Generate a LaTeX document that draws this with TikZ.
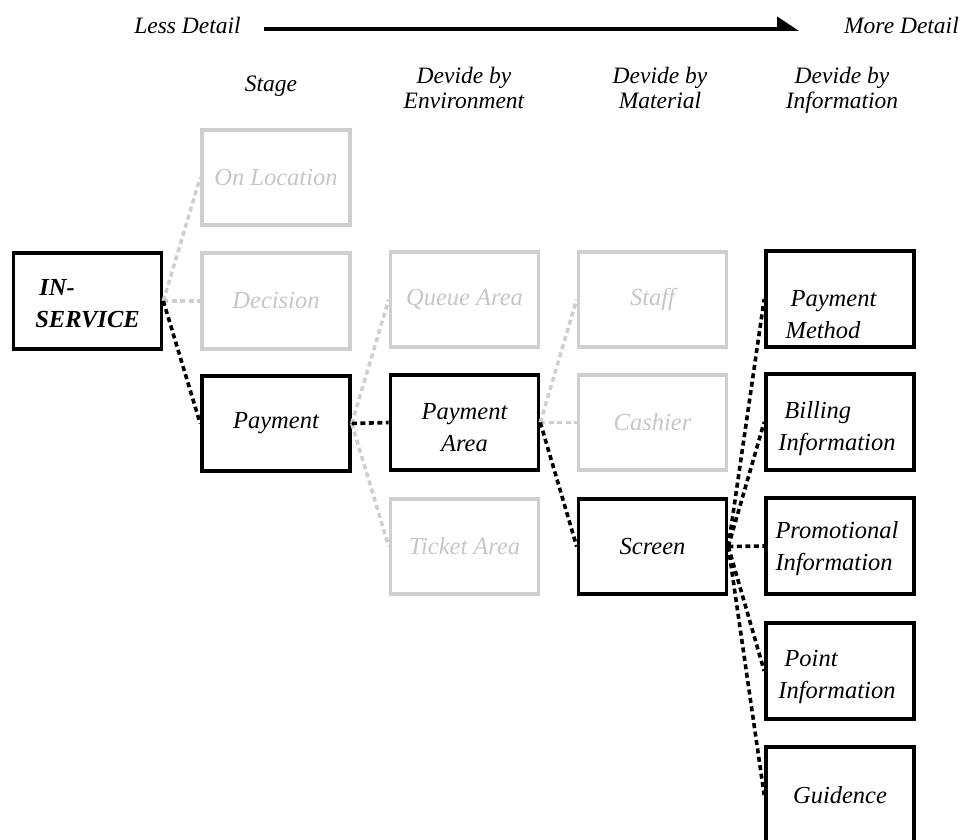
\documentclass[tikz,border=0pt]{standalone}
\usepackage{fontspec}
\setmainfont{Liberation Serif}
\usetikzlibrary{arrows.meta}
\definecolor{faint}{HTML}{CFCFCF}
\definecolor{fainttext}{HTML}{C6C6C6}

\begin{document}
\begin{tikzpicture}[x=1pt,y=-1pt,
  box/.style={draw=black, line width=3.6pt, minimum width=148pt, minimum height=95.5pt, inner sep=0pt},
  dimbox/.style={box, draw=faint},
  lbl/.style={font=\fontsize{24.5}{32}\selectfont\itshape, inner sep=0pt},
  dimlbl/.style={lbl, text=fainttext},
  head/.style={font=\fontsize{23.5}{25}\selectfont\itshape, inner sep=0pt, align=center},
  link/.style={line width=3.6pt, dash pattern=on 5pt off 3.5pt},
  dimlink/.style={link, draw=faint},
]
\useasboundingbox (0,0) rectangle (962,839);

% scale of detail
\node[head, anchor=base] (less) at (187.5,33) {Less Detail};
\node[head, anchor=base east] (more) at (959,33) {More Detail};
\draw[line width=3.6pt, -{Triangle[harpoon, length=19pt, width=24pt]},
      shorten <=23pt, shorten >=45pt] ([yshift=-4pt]less.east) -- ([yshift=-4pt]more.west);

% column headings
\node[head] (hstage) at (271,86) {Stage};
\node[head] (henv)   at (464,87.5) {Devide by\\Environment};
\node[head] (hmat)   at (660,87.5) {Devide by\\Material};
\node[head] (hinfo)  at (842,90.5) {Devide by\\Information};

% boxes
\node[box]    (ins)    at (87.5,301)  {};
\node[dimbox] (onloc)  at (276,177.5) {};
\node[dimbox] (dec)    at (276,301)   {};
\node[box]    (pay)    at (276,423.5) {};
\node[dimbox] (queue)  at (464.5,299.5) {};
\node[box]    (parea)  at (464.5,422.5) {};
\node[dimbox] (ticket) at (464.5,546.5) {};
\node[dimbox] (staff)  at (652.5,299.5) {};
\node[dimbox] (cash)   at (652.5,422.5) {};
\node[box]    (screen) at (652.5,546.5) {};
\node[box]    (pm)     at (840,299)   {};
\node[box]    (bill)   at (840,422)   {};
\node[box]    (promo)  at (840,546)   {};
\node[box]    (point)  at (840,671)   {};
\node[box]    (guide)  at (840,795)   {};

% box texts
\node[lbl, font=\fontsize{24.5}{32}\selectfont\bfseries\itshape, align=left]
      (inst) at ([yshift=-2.5pt]ins.center) {\hspace*{4pt}IN-\\SERVICE};
\node[dimlbl] (onloct) at (onloc) {On Location};
\node[dimlbl] (dect)   at (dec) {Decision};
\node[lbl]    (payt)   at (pay) {Payment};
\node[dimlbl] (queuet) at (queue) {Queue Area};
\node[lbl, align=center] (pareat) at ([yshift=-5pt]parea.center) {Payment\\Area};
\node[dimlbl] (tickett) at (ticket) {Ticket Area};
\node[dimlbl] (stafft) at (staff) {Staff};
\node[dimlbl] (casht)  at (cash) {Cashier};
\node[lbl]    (screent) at (screen) {Screen};
\node[lbl, align=left] (pmt) at ([xshift=-9pt,yshift=-15.5pt]pm.center) {\hspace*{5pt}Payment\\Method};
\node[lbl, align=left] (billt) at ([xshift=-3pt,yshift=-7pt]bill.center) {\hspace*{6pt}Billing\\Information};
\node[lbl, align=left] (promot) at ([xshift=-3pt,yshift=-3pt]promo.center) {Promotional\\Information};
\node[lbl, align=left] (pointt) at ([xshift=-3pt,yshift=-6pt]point.center) {\hspace*{6pt}Point\\Information};
\node[lbl]    (guidet) at (guide) {Guidence};

% branches not taken
\draw[dimlink] (ins.east) -- (onloc.west);
\draw[dimlink] (ins.east) -- (dec.west);
\draw[dimlink] (pay.east) -- (queue.west);
\draw[dimlink] (pay.east) -- (ticket.west);
\draw[dimlink] (parea.east) -- (staff.west);
\draw[dimlink] (parea.east) -- (cash.west);

% chosen path
\draw[link] (ins.east) -- (pay.west);
\draw[link] (pay.east) -- (parea.west);
\draw[link] (parea.east) -- (screen.west);
\draw[link] (screen.east) -- (pm.west);
\draw[link] (screen.east) -- (bill.west);
\draw[link] (screen.east) -- (promo.west);
\draw[link] (screen.east) -- (point.west);
\draw[link] (screen.east) -- (guide.west);
\end{tikzpicture}
\end{document}
